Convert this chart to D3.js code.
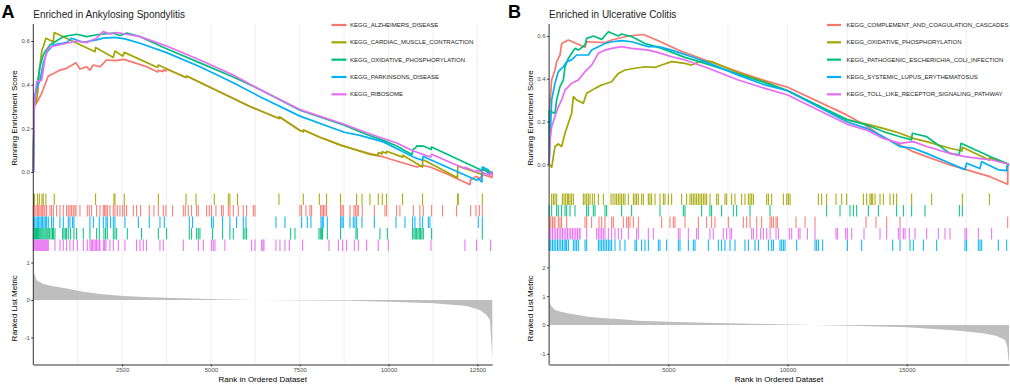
<!DOCTYPE html>
<html>
<head>
<meta charset="utf-8">
<script src="https://cdn.jsdelivr.net/npm/d3@7"></script>
<style>
body { margin: 0; background: #fff; }
svg { font-family: 'Liberation Sans', Arial, sans-serif; }
</style>
</head>
<body>
<svg id="chart" width="1010" height="384"></svg>
<script>
// ---------- panel A : Ankylosing Spondylitis ----------
const nGenesA = 12922;
const setsA = ['KEGG_ALZHEIMERS_DISEASE', 'KEGG_CARDIAC_MUSCLE_CONTRACTION', 'KEGG_OXIDATIVE_PHOSPHORYLATION',
    'KEGG_PARKINSONS_DISEASE', 'KEGG_RIBOSOME'];
// order of the hit rows, top to bottom
const rowOrderA = ['KEGG_CARDIAC_MUSCLE_CONTRACTION', 'KEGG_ALZHEIMERS_DISEASE', 'KEGG_PARKINSONS_DISEASE',
    'KEGG_OXIDATIVE_PHOSPHORYLATION', 'KEGG_RIBOSOME'];

// running enrichment score, [rank, score]
const esA_alzheimers = [[0,0],[28,0.30],[141,0.33],[235,0.36],[328,0.40],[422,0.44],[610,0.455],[751,0.467],[938,0.475],[1201,0.50],[1314,0.472],[1501,0.482],[1595,0.467],[1689,0.49],[1877,0.482],[2064,0.513],[2299,0.51],[2552,0.516],[2815,0.502],[3190,0.482],[3500,0.458],[3519,0.466],[3650,0.46],[3659,0.468],[3730,0.463],[3753,0.472],[4298,0.433],[4316,0.44],[6100,0.30],[6916,0.245],[6925,0.253],[7507,0.19],[7601,0.185],[7610,0.192],[8052,0.16],[8652,0.123],[8915,0.11],[9384,0.088],[9853,0.069],[10322,0.046],[10792,0.023],[10979,0.03],[11167,0.023],[11730,-0.015],[11918,-0.03],[12293,-0.058],[12312,-0.035],[12481,-0.02],[12574,-0.03],[12640,-0.011],[12915,-0.025],[12922,0]];
const esA_cardiac = [[0,0],[28,0.345],[75,0.314],[122,0.36],[169,0.467],[244,0.559],[281,0.574],[356,0.613],[560,0.597],[591,0.639],[1736,0.551],[1755,0.57],[2252,0.525],[2299,0.554],[2515,0.531],[2562,0.548],[3500,0.479],[3519,0.49],[4298,0.433],[4316,0.44],[6100,0.30],[6916,0.245],[6925,0.253],[7507,0.19],[7601,0.185],[7610,0.192],[8052,0.16],[8652,0.123],[9103,0.1],[9478,0.081],[9700,0.075],[9712,0.089],[9820,0.083],[9825,0.093],[9940,0.086],[9947,0.095],[10397,0.068],[10405,0.077],[10955,0.023],[10965,0.057],[11940,-0.026],[11950,0.028],[12635,-0.011],[12645,0.011],[12922,0]];
const esA_oxidative = [[0,0],[28,0.33],[94,0.375],[113,0.406],[188,0.482],[263,0.528],[328,0.551],[469,0.582],[610,0.597],[844,0.62],[1220,0.631],[1501,0.62],[1877,0.631],[2252,0.636],[2440,0.625],[2627,0.636],[3003,0.62],[3753,0.565],[4692,0.5],[5630,0.435],[6380,0.378],[7507,0.283],[8755,0.214],[9384,0.172],[9853,0.145],[10229,0.119],[10660,0.08],[10700,0.105],[10760,0.11],[10800,0.12],[10979,0.119],[11200,0.103],[11214,0.115],[12574,0.011],[12640,0.005],[12650,0.015],[12856,-0.008],[12922,0]];
const esA_parkinsons = [[0,0],[28,0.345],[75,0.375],[188,0.421],[281,0.498],[375,0.548],[563,0.582],[938,0.593],[1079,0.613],[1407,0.594],[1783,0.605],[1970,0.613],[2299,0.617],[2580,0.61],[3003,0.59],[3753,0.547],[4692,0.482],[5630,0.409],[6380,0.345],[7507,0.256],[8755,0.182],[9196,0.168],[9853,0.138],[10322,0.1],[10698,0.069],[10950,0.054],[10979,0.072],[11167,0.057],[12481,-0.038],[12527,-0.03],[12630,-0.045],[12640,0.023],[12809,0.01],[12856,-0.008],[12922,0]];
const esA_ribosome = [[0,0],[19,0.283],[94,0.413],[235,0.421],[328,0.521],[422,0.567],[563,0.577],[938,0.59],[1220,0.6],[1501,0.593],[1783,0.613],[1970,0.643],[2158,0.632],[2346,0.639],[2627,0.631],[3003,0.62],[3753,0.577],[4692,0.513],[5630,0.444],[6380,0.378],[7507,0.286],[8755,0.219],[9196,0.191],[9666,0.164],[10229,0.133],[10698,0.096],[11190,0.069],[11214,0.081],[12152,0.015],[12160,0.022],[12481,0],[12490,0.008],[12856,-0.015],[12875,0],[12922,0]];

// positions of the genes of each set in the ranked list
const hitsA_alzheimers = [0,38,75,113,150,188,225,263,300,328,375,469,516,563,657,751,844,938,985,1032,1079,1126,1173,1201,1314,1520,1576,1642,1783,1877,1970,2008,2046,2083,2158,2252,2299,2365,2440,2515,2562,2627,2815,2909,3021,3265,3397,3519,3659,3734,3922,4222,4279,4363,4457,4598,4645,4879,4954,5020,5142,5301,5348,5489,5536,5630,5771,5911,6005,6194,6241,7507,7554,7676,7789,7836,8089,8130,8170,8211,8258,8652,8690,8727,8915,9028,9074,9117,9150,9262,9600,9900,9947,10229,10322,10698,10885,10979,11214,11523,11918,12312,12462,12556,12640];
const hitsA_cardiac = [5,30,120,170,245,280,355,590,1755,2270,2300,2560,3520,4300,4580,5095,5490,5535,5750,6916,7601,8052,8258,8652,9103,9253,9478,9712,9825,9947,10397,10960,11946,11964,12640];
const hitsA_oxidative = [0,30,60,90,120,150,180,210,240,270,300,330,360,390,420,460,500,540,565,610,826,863,901,938,985,1051,1145,1220,1407,1595,1783,1858,1989,2036,2083,2252,2299,2346,2646,3049,3519,3753,4391,4457,4598,4645,4692,5048,5330,5536,5630,5911,5958,6005,7245,7367,8042,8080,8117,8145,8277,8652,9084,9121,9759,9966,10679,10717,10754,10792,10829,10867,10904,10942,10979,11214,12640];
const hitsA_parkinsons = [0,38,75,113,150,188,225,263,300,338,375,422,516,563,751,844,985,1032,1107,1145,1595,1689,1858,1970,2046,2083,2177,2252,2299,2580,2956,3265,3566,3688,4391,4485,5020,5067,5330,5536,5724,5911,5986,6832,7085,7554,7714,7817,8099,8133,8164,8277,8652,8690,8727,8915,9009,9056,9103,9253,9600,10210,10463,10679,10745,10885,10960,11120,11167,12527,12640];
const hitsA_ribosome = [0,28,56,84,113,141,169,197,225,253,281,310,338,366,394,422,610,751,844,938,1032,1126,1239,1407,1520,1595,1633,1670,1708,1745,1783,1820,1858,1877,1970,2008,2046,2158,2252,2393,2580,2909,3003,3096,3190,3566,3659,4222,4645,4786,5020,5067,5114,5395,6147,6241,6428,6466,6494,6832,6944,7085,7207,7583,8324,8587,8709,8821,9037,9150,9384,9712,9994,11195,12152,12481,12875];

// ranked list metric
const metricA_rank = [0,28,94,281,563,938,1407,1877,2533,3284,4222,5160,6380,8915,10000,11261,12199,12574,12762,12856,12922];
const metricA_value = [1.15,0.71,0.53,0.43,0.37,0.31,0.22,0.16,0.107,0.071,0.044,0.018,0.0,-0.018,-0.044,-0.089,-0.16,-0.267,-0.4,-0.533,-1.56];

const xTicksA = [2500, 5000, 7500, 10000, 12500];
const esTicksA = [0, 0.2, 0.4, 0.6];
const metricTicksA = [-1, 0, 1];

// ---------- panel B : Ulcerative Colitis ----------
const nGenesB = 19290;
const setsB = ['KEGG_COMPLEMENT_AND_COAGULATION_CASCADES', 'KEGG_OXIDATIVE_PHOSPHORYLATION',
    'KEGG_PATHOGENIC_ESCHERICHIA_COLI_INFECTION', 'KEGG_SYSTEMIC_LUPUS_ERYTHEMATOSUS',
    'KEGG_TOLL_LIKE_RECEPTOR_SIGNALING_PATHWAY'];
const rowOrderB = ['KEGG_OXIDATIVE_PHOSPHORYLATION', 'KEGG_PATHOGENIC_ESCHERICHIA_COLI_INFECTION',
    'KEGG_COMPLEMENT_AND_COAGULATION_CASCADES', 'KEGG_TOLL_LIKE_RECEPTOR_SIGNALING_PATHWAY',
    'KEGG_SYSTEMIC_LUPUS_ERYTHEMATOSUS'];

const esB_complement = [[0,0],[24,0.269],[108,0.394],[247,0.441],[317,0.48],[457,0.511],[527,0.565],[807,0.581],[1506,0.547],[1576,0.573],[2344,0.569],[2624,0.581],[3323,0.6],[3952,0.607],[4582,0.578],[5420,0.534],[6538,0.488],[7936,0.433],[9054,0.391],[10008,0.36],[12482,0.231],[13321,0.179],[14020,0.126],[14719,0.09],[15278,0.059],[15837,0.036],[16816,-0.003],[18494,-0.058],[19235,-0.093],[19240,-0.005],[19290,0]];
const esB_oxidative = [[0,0],[108,-0.014],[178,0.036],[247,0.083],[387,0.095],[527,0.083],[667,0.145],[807,0.192],[946,0.238],[1016,0.316],[1156,0.301],[1436,0.285],[1576,0.332],[1925,0.355],[2205,0.371],[2624,0.386],[2903,0.425],[3183,0.441],[3603,0.449],[4022,0.456],[4442,0.453],[4721,0.464],[5141,0.48],[5700,0.472],[5980,0.464],[6399,0.484],[6818,0.48],[7936,0.428],[9054,0.386],[10008,0.344],[12482,0.207],[13321,0.188],[14020,0.168],[14719,0.145],[15278,0.121],[15837,0.106],[16816,0.075],[17320,0.062],[17333,0.08],[18460,0.02],[18466,0.03],[19290,0]];
const esB_pathogenic = [[0,0],[10,0.249],[247,0.238],[317,0.301],[457,0.363],[597,0.394],[667,0.456],[807,0.495],[946,0.519],[1086,0.542],[1226,0.534],[1506,0.558],[1576,0.589],[1855,0.6],[2205,0.584],[2484,0.62],[2903,0.6],[3043,0.609],[3463,0.597],[4022,0.565],[4721,0.542],[5700,0.5],[6538,0.472],[7936,0.422],[9054,0.382],[10008,0.344],[12482,0.21],[13321,0.184],[14020,0.153],[14719,0.129],[15200,0.114],[15236,0.145],[15837,0.129],[16816,0.051],[17200,0.044],[17277,0.098],[18494,0.036],[19290,0]];
const esB_lupus = [[0,0],[108,0.301],[247,0.379],[387,0.433],[597,0.456],[737,0.48],[946,0.488],[1156,0.511],[1645,0.511],[1785,0.534],[2065,0.55],[2344,0.565],[2624,0.573],[3043,0.578],[3463,0.573],[4162,0.55],[4582,0.55],[5141,0.534],[5980,0.503],[6538,0.48],[7936,0.417],[9054,0.371],[10008,0.344],[12482,0.199],[13321,0.168],[14020,0.129],[14719,0.083],[15278,0.075],[15837,0.051],[16816,0.005],[17440,-0.025],[17515,0.005],[18070,-0.02],[18144,0.012],[18843,-0.026],[19193,-0.03],[19200,-0.01],[19290,0]];
const esB_toll = [[0,0],[38,0.114],[108,0.176],[247,0.223],[387,0.269],[527,0.301],[667,0.347],[946,0.379],[1226,0.394],[1506,0.433],[1785,0.464],[2065,0.519],[2344,0.534],[2624,0.542],[3043,0.55],[3463,0.542],[4162,0.534],[4582,0.522],[5141,0.503],[5700,0.488],[6678,0.449],[7936,0.394],[9054,0.355],[10008,0.324],[12482,0.188],[13321,0.16],[14020,0.121],[14719,0.098],[15278,0.106],[15837,0.083],[16816,0.051],[17445,0.036],[18004,0.028],[18563,0.02],[19290,0]];

const hitsB_complement = [0,70,140,210,247,387,457,527,737,1506,1576,1785,2093,2205,2344,2624,2694,3113,3253,3323,3393,3533,3742,4721,5071,5211,5281,5700,6259,6608,6818,6958,7517,8146,8286,8428,8708,8917,9267,9337,9407,9518,9574,10357,10735,11154,13293,13712,14160,14719,19235];
const hitsB_oxidative = [108,178,247,317,555,625,695,765,807,877,946,1016,1436,1506,1576,1645,1715,1813,1897,2065,2275,2596,2680,2764,2833,2903,2973,3043,3113,3183,3323,3533,3603,3673,3742,3882,3952,4162,4232,4302,4442,4651,4791,4861,5001,5141,5560,5770,5910,5980,6050,6120,6189,6259,6329,6399,6469,6538,6608,6748,7028,7098,7377,7447,7657,7797,8076,8216,8356,8428,8498,8568,9127,9197,9337,9826,9966,10036,10106,11294,11434,11643,12035,12273,12482,13181,13321,13461,13516,13573,13671,13880,14020,14300,14439,14579,15208,16047,17333,18466];
const hitsB_pathogenic = [0,108,317,387,527,667,737,877,1086,1576,1645,1855,1925,2344,2414,3043,3463,4651,5630,5700,6399,6748,6818,7237,7727,7867,8428,9267,11643,12203,12622,12762,12902,13391,13810,14579,14859,15208,15767,17207,17333];
const hitsB_lupus = [0,70,140,210,280,350,420,490,560,630,700,737,807,1016,1086,1156,1226,1506,1576,2065,2135,2205,2275,2344,2414,2484,2554,2624,2764,2973,3183,3603,3673,3882,4022,4162,4582,4651,4931,5420,5490,5840,6050,6120,6678,7098,7237,7377,7587,7797,8216,8356,8638,8777,9197,9337,9407,9686,9756,9826,9896,10385,11154,11224,11294,11476,12510,13111,14411,14719,15138,15278,15698,16257,17445,17515,18004,18074,18144,18843,19193];
const hitsB_toll = [0,70,140,210,280,350,420,490,560,630,700,770,840,910,980,1050,1120,1190,1260,1300,1576,1995,2065,2135,2205,2275,2344,2484,2624,2764,2903,3043,3323,3673,3742,4162,4372,5420,5490,5840,6189,6259,6748,6888,7307,7447,7587,7657,8498,8568,8708,8875,8987,9127,9267,9518,9616,10078,10176,10455,10525,10833,11154,12035,12091,12440,12510,12692,13209,13880,14160,14649,14719,14859,14929,15110,15348,15837,16326,16606,16816,17445,17515,18004,18563];

const metricB_rank = [0,38,108,247,527,946,1645,2344,3043,3742,5001,6538,9054,12622,14999,16816,18214,18773,19123,19221,19263,19290];
const metricB_value = [1.05,0.75,0.64,0.52,0.45,0.38,0.29,0.23,0.2,0.15,0.116,0.081,0.035,-0.023,-0.081,-0.174,-0.289,-0.382,-0.521,-0.752,-1.215,-1.25];

const xTicksB = [5000, 10000, 15000];
const esTicksB = [0, 0.2, 0.4, 0.6];
const metricTicksB = [-1, 0, 1, 2];

const hue5 = ['#F8766D', '#A3A500', '#00BF7D', '#00B0F6', '#E76BF3'];


class GseaPlot {
    constructor (config, data) {
        this.config = config;
        this.data = data;
        this.init();
    }

    init() {
        let self = this;
        const c = self.config;

        self.g = d3.select(c.parent).append('g');

        self.xscale = d3.scaleLinear()
            .domain([0, self.data.n])
            .range([c.left, c.right]);

        self.yscale = d3.scaleLinear()
            .domain(c.esDomain)
            .range([c.esBottom, c.top]);

        self.mscale = d3.scaleLinear()
            .domain(c.metricDomain)
            .range([c.bottom, c.metricTop]);

        self.cscale = d3.scaleOrdinal()
            .domain(self.data.sets)
            .range(c.colors);
    }

    render() {
        let self = this;
        const c = self.config;
        const d = self.data;
        const g = self.g;

        // vertical grid, through all three strips
        const minor = d3.range(c.minorStep, d.n, c.minorStep);
        g.append('g').selectAll('line')
            .data(minor)
            .join('line')
            .attr('x1', v => self.xscale(v))
            .attr('x2', v => self.xscale(v))
            .attr('y1', c.top)
            .attr('y2', c.bottom)
            .attr('stroke', '#ebebeb')
            .attr('stroke-width', 0.8);

        // ranked list metric
        const pts = d.metricRank.map((r, i) => [r, d.metricValue[i]]);
        g.append('path')
            .attr('d', d3.area()
                .x(p => self.xscale(p[0]))
                .y0(self.mscale(0))
                .y1(p => self.mscale(p[1]))(pts))
            .attr('fill', '#bebebe');

        // hit rows
        const rowH = (c.rowsBottom - c.rowsTop) / d.rowOrder.length;
        d.rowOrder.forEach((name, i) => {
            const k = d.sets.indexOf(name);
            g.append('g').selectAll('line')
                .data(d.hits[k])
                .join('line')
                .attr('x1', r => self.xscale(r))
                .attr('x2', r => self.xscale(r))
                .attr('y1', c.rowsTop + i * rowH)
                .attr('y2', c.rowsTop + (i + 1) * rowH)
                .attr('stroke', self.cscale(name))
                .attr('stroke-width', 1);
        });

        // running enrichment score lines
        const line = d3.line()
            .x(p => self.xscale(p[0]))
            .y(p => self.yscale(p[1]));
        d.sets.forEach((name, k) => {
            g.append('path')
                .attr('d', line(d.es[k]))
                .attr('fill', 'none')
                .attr('stroke', self.cscale(name))
                .attr('stroke-width', 1.7)
                .attr('stroke-linejoin', 'round');
        });

        // axes
        const fmtNum = v => String(v);
        const yaxis = d3.axisLeft(self.yscale)
            .tickValues(d.esTicks)
            .tickFormat(d3.format('.1f'))
            .tickSize(2).tickPadding(1.5).tickSizeOuter(0);
        const maxis = d3.axisLeft(self.mscale)
            .tickValues(d.metricTicks)
            .tickFormat(fmtNum)
            .tickSize(2).tickPadding(1.5).tickSizeOuter(0);
        const xaxis = d3.axisBottom(self.xscale)
            .tickValues(d.xTicks)
            .tickFormat(fmtNum)
            .tickSize(2).tickPadding(1.5).tickSizeOuter(0);

        const ya = g.append('g').attr('transform', `translate(${c.left}, 0)`).call(yaxis);
        const ma = g.append('g').attr('transform', `translate(${c.left}, 0)`).call(maxis);
        const xa = g.append('g').attr('transform', `translate(0, ${c.bottom})`).call(xaxis);
        ya.select('.domain').remove();
        ma.select('.domain').remove();

        [ya, ma, xa].forEach(a => {
            a.selectAll('text').style('font-size', '6px').attr('fill', '#4d4d4d');
            a.selectAll('.tick line').attr('stroke', '#333');
            a.select('.domain').attr('stroke', '#333');
        });

        g.append('line')
            .attr('x1', c.left).attr('x2', c.left)
            .attr('y1', c.top).attr('y2', c.bottom + 0.5)
            .attr('stroke', '#333');

        // titles
        g.append('text')
            .attr('x', c.tagX).attr('y', 18.3)
            .style('font-size', '18px').style('font-weight', 'bold')
            .text(c.tag);
        g.append('text')
            .attr('x', c.left).attr('y', 17.5)
            .style('font-size', '10px').attr('fill', '#1a1a1a')
            .text(c.title);

        g.append('text')
            .attr('transform', `translate(${c.left - 16}, ${(c.top + c.esBottom + 20) / 2}) rotate(-90)`)
            .attr('text-anchor', 'middle')
            .style('font-size', '8px')
            .text('Running Enrichment Score');
        g.append('text')
            .attr('transform', `translate(${c.left - 16}, ${(c.metricTop + c.bottom) / 2}) rotate(-90)`)
            .attr('text-anchor', 'middle')
            .style('font-size', '8px')
            .text('Ranked List Metric');
        g.append('text')
            .attr('x', (c.left + c.right) / 2).attr('y', 382)
            .attr('text-anchor', 'middle')
            .style('font-size', '8px')
            .text('Rank in Ordered Dataset');

        // legend
        const leg = g.append('g').selectAll('g')
            .data(d.sets)
            .join('g')
            .attr('transform', (s, i) => `translate(0, ${25 + i * 17.33})`);
        leg.append('line')
            .attr('x1', c.legendX).attr('x2', c.legendX + c.legendLen)
            .attr('stroke', s => self.cscale(s))
            .attr('stroke-width', 2.2);
        leg.append('text')
            .attr('x', c.legendTextX).attr('y', 2.1)
            .style('font-size', '6px').attr('fill', '#1a1a1a')
            .text(s => s);
    }
}

const panelA = new GseaPlot({
    parent: '#chart', left: 33.3, right: 492.3,
    top: 24, esBottom: 192, esDomain: [-0.0916, 0.678],
    rowsTop: 193.5, rowsBottom: 251,
    metricTop: 252, bottom: 364.5, metricDomain: [-1.72, 1.28],
    minorStep: 1250, colors: hue5,
    tag: 'A', tagX: 1.5, title: 'Enriched in Ankylosing Spondylitis',
    legendX: 331.5, legendLen: 15, legendTextX: 350
}, {
    n: nGenesA, sets: setsA, rowOrder: rowOrderA,
    es: [esA_alzheimers, esA_cardiac, esA_oxidative, esA_parkinsons, esA_ribosome],
    hits: [hitsA_alzheimers, hitsA_cardiac, hitsA_oxidative, hitsA_parkinsons, hitsA_ribosome],
    metricRank: metricA_rank, metricValue: metricA_value,
    xTicks: xTicksA, esTicks: esTicksA, metricTicks: metricTicksA
});
panelA.render();

const panelB = new GseaPlot({
    parent: '#chart', left: 549.1, right: 1009,
    top: 24, esBottom: 192, esDomain: [-0.1296, 0.656],
    rowsTop: 193.5, rowsBottom: 251,
    metricTop: 252, bottom: 364.5, metricDomain: [-1.372, 2.535],
    minorStep: 2500, colors: hue5,
    tag: 'B', tagX: 508, title: 'Enriched in Ulcerative Colitis',
    legendX: 827, legendLen: 14, legendTextX: 846.5
}, {
    n: nGenesB, sets: setsB, rowOrder: rowOrderB,
    es: [esB_complement, esB_oxidative, esB_pathogenic, esB_lupus, esB_toll],
    hits: [hitsB_complement, hitsB_oxidative, hitsB_pathogenic, hitsB_lupus, hitsB_toll],
    metricRank: metricB_rank, metricValue: metricB_value,
    xTicks: xTicksB, esTicks: esTicksB, metricTicks: metricTicksB
});
panelB.render();
</script>
</body>
</html>
